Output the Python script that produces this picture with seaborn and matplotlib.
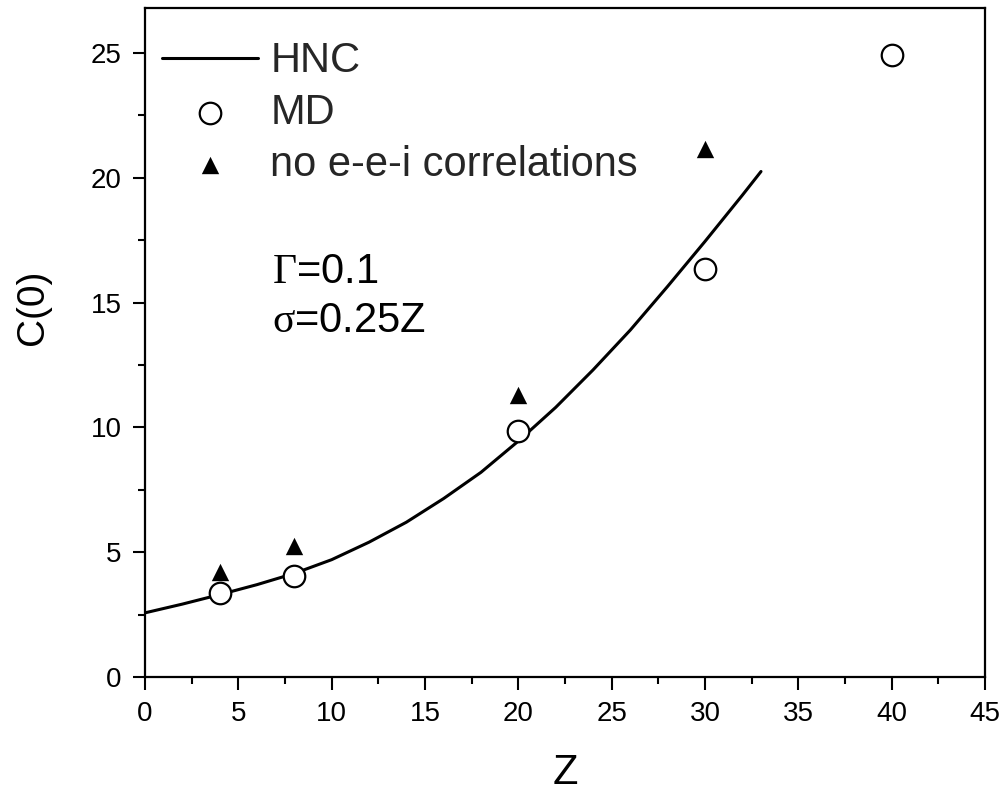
import matplotlib
matplotlib.use("Agg")
import matplotlib.pyplot as plt
import seaborn as sns
import numpy as np
import pandas as pd
from matplotlib.ticker import MultipleLocator

# ---- data ----
hnc_z = [0, 2, 4, 6, 8, 10, 12, 14, 16, 18, 20, 22, 24, 26, 28, 30, 32, 33]
hnc_c = [2.57, 2.92, 3.3, 3.7, 4.15, 4.7, 5.4, 6.2, 7.15, 8.2, 9.45, 10.8,
         12.3, 13.9, 15.65, 17.45, 19.3, 20.25]
md_z = [4, 8, 20, 30, 40]
md_c = [3.36, 4.05, 9.84, 16.35, 24.9]
noc_z = [4, 8, 20, 30]
noc_c = [4.2, 5.24, 11.3, 21.15]

sns.set_theme(style="ticks")
plt.rcParams['font.family'] = ['Liberation Sans', 'DejaVu Sans']
plt.rcParams['mathtext.fontset'] = 'custom'
plt.rcParams['mathtext.rm'] = 'Liberation Serif'
plt.rcParams['mathtext.it'] = 'Liberation Serif:italic'

fig = plt.figure(figsize=(10.08, 7.97), dpi=100)
ax = fig.add_axes([145/1008, 1-677/797, 840/1008, 669/797])

sns.lineplot(x=hnc_z, y=hnc_c, ax=ax, color="black", linewidth=2.2,
             label="HNC", zorder=2)
sns.scatterplot(x=md_z, y=md_c, ax=ax, marker="o", s=15.5**2, facecolor="white",
                edgecolor="black", linewidth=1.6, label="MD", zorder=3)
sns.scatterplot(x=noc_z, y=noc_c, ax=ax, marker="^", s=12.5**2, color="black",
                edgecolor="black", linewidth=0, label="no e-e-i correlations", zorder=3)

ax.set_xlim(0, 45)
ax.set_ylim(0, 26.8)
ax.xaxis.set_major_locator(MultipleLocator(5))
ax.xaxis.set_minor_locator(MultipleLocator(2.5))
ax.yaxis.set_major_locator(MultipleLocator(5))
ax.yaxis.set_minor_locator(MultipleLocator(2.5))
ax.tick_params(which="major", direction="out", length=9, width=1.5,
               labelsize=20, color="black", labelcolor="black", pad=8)
ax.tick_params(which="minor", direction="out", length=5, width=1.5, color="black")
for sp in ax.spines.values():
    sp.set_linewidth(1.6)
    sp.set_color("black")
    sp.set_visible(True)

ax.set_xlabel("Z", fontsize=30, color="black")
ax.set_ylabel("C(0)", fontsize=28, color="black")
ax.xaxis.label.set_va("center")
ax.xaxis.set_label_coords(0.5, -(773 - 677) / 669)
ax.yaxis.label.set_va("center")
ax.yaxis.set_label_coords((33 - 145) / 840, 1 - (307 - 8) / 669)

ax.text((272 - 145) / 840, 1 - (283 - 8) / 669, r"$\mathrm{\Gamma}$=0.1",
        transform=ax.transAxes, fontsize=30, color="black", va="baseline")
ax.text((272 - 145) / 840, 1 - (332 - 8) / 669, r"$\mathrm{\sigma}$=0.25Z",
        transform=ax.transAxes, fontsize=30, color="black", va="baseline")

leg = ax.legend(loc="upper left", bbox_to_anchor=(17/840, 0.950), frameon=False,
                fontsize=30, handlelength=2.3, handletextpad=0.3,
                labelspacing=0.28, borderaxespad=0, borderpad=0)

fig.savefig("out.png", dpi=100)
